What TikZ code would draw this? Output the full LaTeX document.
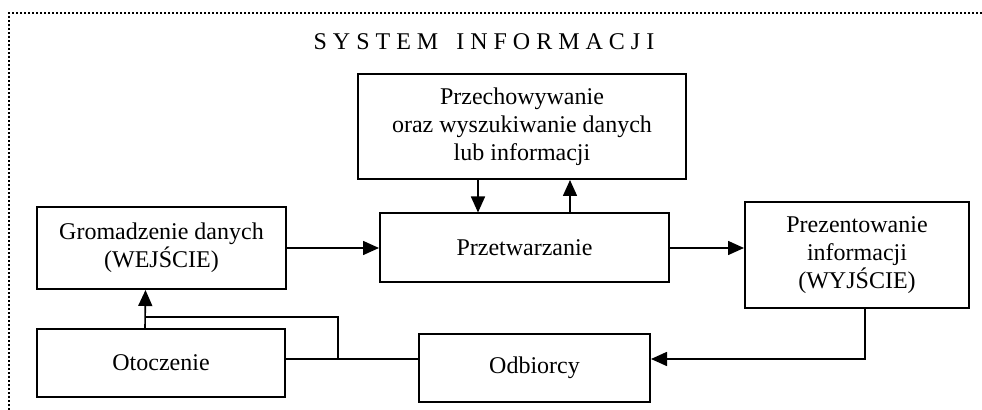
\documentclass[tikz,border=0pt]{standalone}
\usepackage{fontspec}
\setmainfont{Liberation Serif}
\usepackage{tikz}
\usetikzlibrary{arrows.meta}
\usetikzlibrary{calc}
\usetikzlibrary{positioning}

\begin{document}
\begin{tikzpicture}[x=0.5pt, y=-0.5pt,
  every node/.style={font=\fontsize{12pt}{14pt}\selectfont},
  blok/.style={draw, line width=1pt, align=center, inner sep=0pt},
  arr/.style={line width=0.8pt, -{Triangle[length=8pt,width=7pt]}},
  lin/.style={line width=0.8pt},
  ramka/.style={line width=1pt, dash pattern=on 1pt off 1pt}]
\useasboundingbox (0,0) rectangle (982,410);
\draw[ramka] (9,410) -- (9,13) -- (982,13);

\node (tytul) at (484,42) {S Y S T E M\ \ \ I N F O R M A C J I};
\node[blok, minimum width=164pt, minimum height=52.5pt] (baza) at (522,126.5) {Przechowywanie\\oraz wyszukiwanie danych\\lub informacji};
\node[blok, minimum width=144.5pt, minimum height=34.5pt] (przetw) at (524.5,248) {Przetwarzanie};
\node[blok, minimum width=124.5pt, minimum height=41pt] (wejscie) at (161.5,248) {Gromadzenie danych\\(WEJŚCIE)};
\node[blok, minimum width=112pt, minimum height=53pt] (wyjscie) at (857,255) {Prezentowanie\\informacji\\(WYJŚCIE)};
\node[blok, minimum width=124pt, minimum height=34pt] (otoczenie) at (161,363) {Otoczenie};
\node[blok, minimum width=115.5pt, minimum height=34pt] (odbiorcy) at (534.5,368) {Odbiorcy};

\coordinate (wezel) at (338,359);
\coordinate (rozgal) at (145,317);

\draw[arr] (wejscie.east |- przetw.west) -- (przetw.west);
\draw[arr] (przetw.east) -- (wyjscie.west |- przetw.east);
\draw[arr] ([xshift=-22pt]baza.south) -- ([xshift=-22pt]baza.south |- przetw.north);
\draw[arr] ([xshift=24pt]baza.south |- przetw.north) -- ([xshift=24pt]baza.south);
\draw[arr] ([xshift=4pt]wyjscie.south) |- (odbiorcy.east |- wezel);
\draw[arr] ([xshift=-8pt]otoczenie.north) -- ([xshift=-8pt]wejscie.south);
\draw[lin] (otoczenie.east |- wezel) -- (odbiorcy.west |- wezel);
\draw[lin] (wezel) |- (rozgal);
\end{tikzpicture}
\end{document}
